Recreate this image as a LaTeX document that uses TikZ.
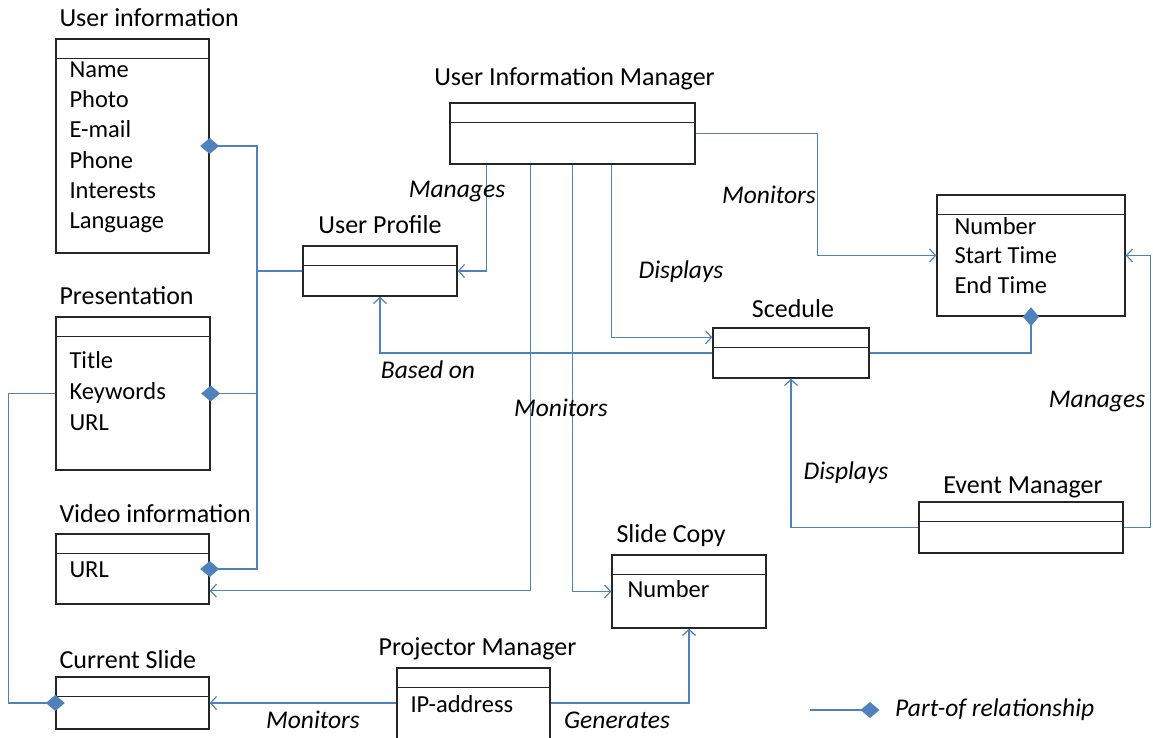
\documentclass[tikz,border=0pt]{standalone}
\usepackage{fontspec}
\setmainfont{Carlito}
\usetikzlibrary{positioning,calc,arrows.meta}
\definecolor{linkblue}{HTML}{4F81BD}
\tikzset{
  classbox/.style = {draw=black!85, line width=1.4pt, rectangle, inner sep=0pt},
  title/.style    = {font=\fontsize{26}{30}\selectfont, anchor=base west, inner sep=0pt},
  attr/.style     = {font=\fontsize{24.5}{29}\selectfont, anchor=base west, inner sep=0pt},
  lbl/.style      = {font=\fontsize{25.5}{30}\selectfont\itshape, inner sep=0pt},
  link/.style     = {draw=linkblue, line width=1.4pt, -{Straight Barb[length=6pt,width=13pt,line width=1.2pt]}},
  partof/.style   = {draw=linkblue, line width=1.4pt, -{Diamond[length=19pt,width=16pt,fill=linkblue]}, shorten >=-9.5pt},
  plain/.style    = {draw=linkblue, line width=1.4pt}
}
\begin{document}
\begin{tikzpicture}[x=1pt,y=-1pt]
  \useasboundingbox (0,0) rectangle (1153,738);

  % class boxes
  \node[classbox, minimum width=153pt, minimum height=214pt] (uinfo)  at (132.5,146)   {};
  \node[classbox, minimum width=154pt, minimum height=153pt] (pres)   at (133,393.5)   {};
  \node[classbox, minimum width=153pt, minimum height=70pt]  (video)  at (132.5,569)   {};
  \node[classbox, minimum width=153pt, minimum height=52pt]  (cslide) at (132.5,703)   {};
  \node[classbox, minimum width=153pt, minimum height=74pt]  (proj)   at (473.5,705)   {};
  \node[classbox, minimum width=154pt, minimum height=73pt]  (scopy)  at (689,591.5)   {};
  \node[classbox, minimum width=154pt, minimum height=50pt]  (uprof)  at (380,271)     {};
  \node[classbox, minimum width=245pt, minimum height=61pt]  (uim)    at (572.5,133.5) {};
  \node[classbox, minimum width=156pt, minimum height=50pt]  (sched)  at (791,353)     {};
  \node[classbox, minimum width=188pt, minimum height=121pt] (timer)  at (1031,255.5)  {};
  \node[classbox, minimum width=204pt, minimum height=51pt]  (event)  at (1021,527.5)  {};

  \foreach \b in {uinfo,pres,video,cslide,proj,scopy,uprof,uim,sched,timer,event}
    \draw[black!85, line width=1.4pt] ($(\b.north west)+(0,20)$) -- ($(\b.north east)+(0,20)$);

  % titles
  \node[title] (uinfo-t)  at ($(uinfo.north west)+(4,-12)$)  {User information};
  \node[title] (pres-t)   at ($(pres.north west)+(4,-12)$)   {Presentation};
  \node[title] (video-t)  at ($(video.north west)+(4,-11)$)  {Video information};
  \node[title] (cslide-t) at ($(cslide.north west)+(4,-8)$)  {Current Slide};
  \node[title, anchor=base] (proj-t)  at ($(proj.north)+(4,-12)$)  {Projector Manager};
  \node[title] (scopy-t)  at ($(scopy.north west)+(5,-12)$)  {Slide Copy};
  \node[title, anchor=base] (uprof-t) at ($(uprof.north)+(0,-12)$) {User Profile};
  \node[title, anchor=base] (uim-t)   at ($(uim.north)+(2,-17)$)   {User Information Manager};
  \node[title, anchor=base] (sched-t) at ($(sched.north)+(2,-10)$) {Scedule};
  \node[title, anchor=base] (event-t) at ($(event.north)+(2,-8)$)  {Event Manager};

  % attributes
  \foreach \t [count=\i] in {Name,Photo,E-mail,Phone,Interests,Language}
    \node[attr] (uinfo-\i) at ($(uinfo.north west)+(14,{39+30.3*(\i-1)})$) {\t};
  \foreach \t [count=\i] in {Title,Keywords,URL}
    \node[attr] (pres-\i) at ($(pres.north west)+(14,{52+31*(\i-1)})$) {\t};
  \node[attr] (video-1) at ($(video.north west)+(14,44)$) {URL};
  \node[attr] (scopy-1) at ($(scopy.north west)+(16,43)$) {Number};
  \node[attr] (proj-1)  at ($(proj.north west)+(14,45)$)  {IP-address};
  \foreach \t [count=\i] in {Number,Start Time,End Time}
    \node[attr] (timer-\i) at ($(timer.north west)+(18,{40+29.5*(\i-1)})$) {\t};

  % part-of links
  \coordinate (trunk) at (257,271);
  \draw[plain] (uprof.west) -- (trunk);
  \draw[partof] (trunk) |- (uinfo.east);
  \draw[partof] (trunk) |- (pres.east);
  \draw[partof] (trunk) |- (video.east);
  \draw[partof] (pres.west) -- ++(-47,0) |- (cslide.west);
  \draw[partof] (sched.east) -| (timer.south);

  % associations
  \draw[link] ($(uim.south west)+(37,0)$) |- (uprof.east);
  \draw[link] ($(uim.south west)+(81,0)$) |- ($(video.south east)+(0,-14)$);
  \draw[link] ($(uim.south west)+(123,0)$) |- (scopy.west);
  \draw[link] ($(uim.south west)+(162,0)$) |- ($(sched.north west)+(0,10)$);
  \draw[link] (uim.east) -- ++(122,0) |- (timer.west);
  \draw[link] (sched.west) -| (uprof.south);
  \draw[link] (event.west) -| (sched.south);
  \draw[link] (event.east) -- ++(27,0) |- (timer.east);
  \draw[link] (proj.west |- cslide.east) -- (cslide.east);
  \draw[link] (proj.east |- cslide.east) -| (scopy.south);

  % labels
  \node[lbl] (l-manages1)  at (457,192) {Manages};
  \node[lbl] (l-monitors1) at (769,195) {Monitors};
  \node[lbl] (l-displays1) at (681,272) {Displays};
  \node[lbl] (l-basedon)   at (428,370) {Based on};
  \node[lbl] (l-monitors2) at (561,408) {Monitors};
  \node[lbl] (l-displays2) at (846,473) {Displays};
  \node[lbl] (l-manages2)  at (1097,402) {Manages};
  \node[lbl] (l-monitors3) at (313,720) {Monitors};
  \node[lbl] (l-generates) at (617,720) {Generates};

  % legend
  \node[lbl, anchor=west] (legtext) at (895,710) {Part-of relationship};
  \coordinate (leg) at (810,710);
  \draw[partof] (leg) -- ($(legtext.west)+(-25,0)$);
\end{tikzpicture}
\end{document}
